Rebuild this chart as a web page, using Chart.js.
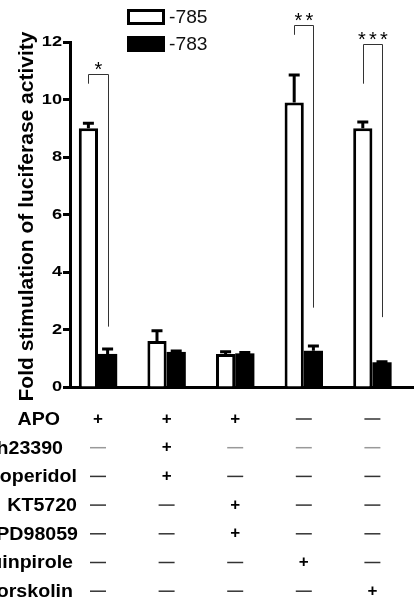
<!DOCTYPE html>
<html>
<head>
<meta charset="utf-8">
<script src="https://cdn.jsdelivr.net/npm/chart.js@4/dist/chart.umd.min.js"></script>
<style>
    html, body { margin: 0; padding: 0; background: #fff; }
    canvas { display: block; }
</style>
</head>
<body>
<canvas id="chart" width="414" height="603"></canvas>
<script>
// -----------------------------
// Data
// -----------------------------
const conditions = ['APO', 'APO + Sch23390 + Haloperidol', 'APO + KT5720 + PD98059', 'Quinpirole', 'Forskolin'];
const seriesLabels = ['-785', '-783'];
const values785 = [9.0, 1.6, 1.15, 9.9, 9.0];
const errors785 = [0.17, 0.36, 0.08, 0.95, 0.22];
const values783 = [1.15, 1.22, 1.17, 1.26, 0.86];
const errors783 = [0.17, 0.03, 0.03, 0.17, 0.02];
const yTicks = [0, 2, 4, 6, 8, 10, 12];
const yTitle = 'Fold stimulation of luciferase activity';

// significance brackets (values on the y scale)
const sigGroups = [0, 3, 4];
const sigLabels = ['*', '**', '***'];
const sigTop = [10.9, 12.6, 11.92];
const sigLeftEnd = [10.55, 12.25, 10.55];
const sigRightEnd = [2.1, 2.76, 2.43];

// treatment table under the axis (1 = "+", 0 = "—")
const treatments = ['APO', 'Sch23390', 'Haloperidol', 'KT5720', 'PD98059', 'Quinpirole', 'Forskolin'];
const treatmentPlan = [
    [1, 1, 1, 0, 0],
    [0, 1, 0, 0, 0],
    [0, 1, 0, 0, 0],
    [0, 0, 1, 0, 0],
    [0, 0, 1, 0, 0],
    [0, 0, 0, 1, 0],
    [0, 0, 0, 0, 1]
];

// -----------------------------
// Helpers
// -----------------------------
function stretchText(ctx, text, x, y, sx, align) {
    ctx.save();
    ctx.translate(x, y);
    ctx.scale(sx, 1);
    ctx.textAlign = align;
    ctx.fillText(text, 0, 0);
    ctx.restore();
}

const toPoints = arr => arr.map((v, i) => ({ x: i, y: v }));

// -----------------------------
// Extras: error bars, brackets, legend, labels, table
// -----------------------------
const extrasPlugin = {
    id: 'extras',
    afterDatasetsDraw(chart) {
        const ctx = chart.ctx;
        const y = chart.scales.y;
        const errs = [errors785, errors783];
        const vals = [values785, values783];

        ctx.save();
        ctx.strokeStyle = '#000';
        ctx.lineWidth = 3;
        errs.forEach((errArr, d) => {
            chart.getDatasetMeta(d).data.forEach((bar, i) => {
                const top = y.getPixelForValue(vals[d][i] + errArr[i]);
                ctx.beginPath();
                ctx.moveTo(bar.x, bar.y);
                ctx.lineTo(bar.x, top);
                ctx.moveTo(bar.x - 5.5, top);
                ctx.lineTo(bar.x + 5.5, top);
                ctx.stroke();
            });
        });
        ctx.restore();
    },
    afterDraw(chart) {
        const ctx = chart.ctx;
        const x = chart.scales.x;
        const y = chart.scales.y;
        const white = chart.getDatasetMeta(0).data;
        const black = chart.getDatasetMeta(1).data;

        ctx.save();

        // y tick labels
        ctx.fillStyle = '#000';
        ctx.font = 'bold 14px "Liberation Sans", Arial, sans-serif';
        ctx.textBaseline = 'middle';
        yTicks.forEach(v => stretchText(ctx, String(v), 62, y.getPixelForValue(v) + 0.5, 1.3, 'right'));

        // y title
        ctx.save();
        ctx.translate(33, 216.5);
        ctx.rotate(-Math.PI / 2);
        ctx.font = 'bold 21px "Liberation Sans", Arial, sans-serif';
        ctx.textAlign = 'center';
        ctx.textBaseline = 'alphabetic';
        ctx.fillText(yTitle, 0, 0);
        ctx.restore();

        // significance brackets
        ctx.strokeStyle = '#333';
        ctx.lineWidth = 1;
        ctx.font = '20px "Liberation Sans", Arial, sans-serif';
        ctx.textBaseline = 'alphabetic';
        ctx.textAlign = 'center';
        sigGroups.forEach((g, k) => {
            const lx = Math.round(white[g].x) + 0.5;
            const rx = Math.round(black[g].x) + 0.5;
            const top = Math.round(y.getPixelForValue(sigTop[k])) + 0.5;
            ctx.beginPath();
            ctx.moveTo(lx, y.getPixelForValue(sigLeftEnd[k]));
            ctx.lineTo(lx, top);
            ctx.lineTo(rx, top);
            ctx.lineTo(rx, y.getPixelForValue(sigRightEnd[k]));
            ctx.stroke();
            const n = sigLabels[k].length;
            const cx = (lx + rx) / 2;
            for (let s = 0; s < n; s++) {
                ctx.fillText('*', cx + (s - (n - 1) / 2) * 11, top + 1);
            }
        });

        // legend
        chart.data.datasets.forEach((ds, d) => {
            const by = d === 0 ? 9 : 36;
            ctx.fillStyle = ds.backgroundColor;
            ctx.fillRect(127, by, 38, 16);
            if (ds.borderWidth) {
                ctx.strokeStyle = '#000';
                ctx.lineWidth = 3;
                ctx.strokeRect(128.5, by + 1.5, 35, 13);
            }
            ctx.fillStyle = '#111';
            ctx.font = '18px "Liberation Sans", Arial, sans-serif';
            ctx.textBaseline = 'middle';
            stretchText(ctx, ds.label, 169, by + 9, 1.07, 'left');
        });

        // treatment table
        const labelRight = [60, 63, 77, 77, 78, 73, 73];
        treatments.forEach((name, r) => {
            const ry = 419 + r * 28.7;
            ctx.fillStyle = '#000';
            ctx.font = 'bold 17.5px "Liberation Sans", Arial, sans-serif';
            ctx.textBaseline = 'middle';
            stretchText(ctx, name, labelRight[r], ry + 1, 1.12, 'right');
            treatmentPlan[r].forEach((on, c) => {
                const cx = x.getPixelForValue(c);
                if (on) {
                    ctx.font = 'bold 17px "Liberation Sans", Arial, sans-serif';
                    ctx.textAlign = 'center';
                    ctx.fillText('+', cx, ry);
                } else {
                    ctx.strokeStyle = r === 1 ? '#999' : '#333';
                    ctx.lineWidth = 1.5;
                    ctx.beginPath();
                    ctx.moveTo(cx - 8, ry);
                    ctx.lineTo(cx + 8, ry);
                    ctx.stroke();
                }
            });
        });

        ctx.restore();
    }
};

// -----------------------------
// Chart
// -----------------------------
const groupStep = 68.6;
const xMin = -(98 - 70) / groupStep;
const xMax = xMin + (414 - 70) / groupStep;

new Chart(document.getElementById('chart'), {
    type: 'bar',
    data: {
        datasets: [
            {
                label: seriesLabels[0],
                data: toPoints(values785),
                backgroundColor: '#fff',
                borderColor: '#000',
                borderWidth: 3
            },
            {
                label: seriesLabels[1],
                data: toPoints(values783),
                backgroundColor: '#000',
                borderColor: '#000',
                borderWidth: 0
            }
        ]
    },
    options: {
        responsive: false,
        animation: false,
        devicePixelRatio: 1,
        categoryPercentage: 0.56,
        barPercentage: 1,
        layout: { padding: { top: 42, left: 0, right: 0, bottom: 0 } },
        plugins: {
            legend: { display: false },
            tooltip: { enabled: false }
        },
        scales: {
            x: {
                type: 'linear',
                offset: false,
                min: xMin,
                max: xMax,
                ticks: { display: false, stepSize: 1, includeBounds: false },
                grid: { offset: false, drawOnChartArea: false, drawTicks: false },
                border: { color: '#000', width: 3 },
                afterFit: s => { s.height = 216; }
            },
            y: {
                min: 0,
                max: 12,
                ticks: { display: false },
                afterBuildTicks: s => { s.ticks = yTicks.map(v => ({ value: v })); },
                grid: { drawOnChartArea: false, tickLength: 7, tickWidth: 3, tickColor: '#000' },
                border: { color: '#000', width: 3 },
                afterFit: s => { s.width = 70; }
            }
        }
    },
    plugins: [extrasPlugin]
});
</script>
</body>
</html>
